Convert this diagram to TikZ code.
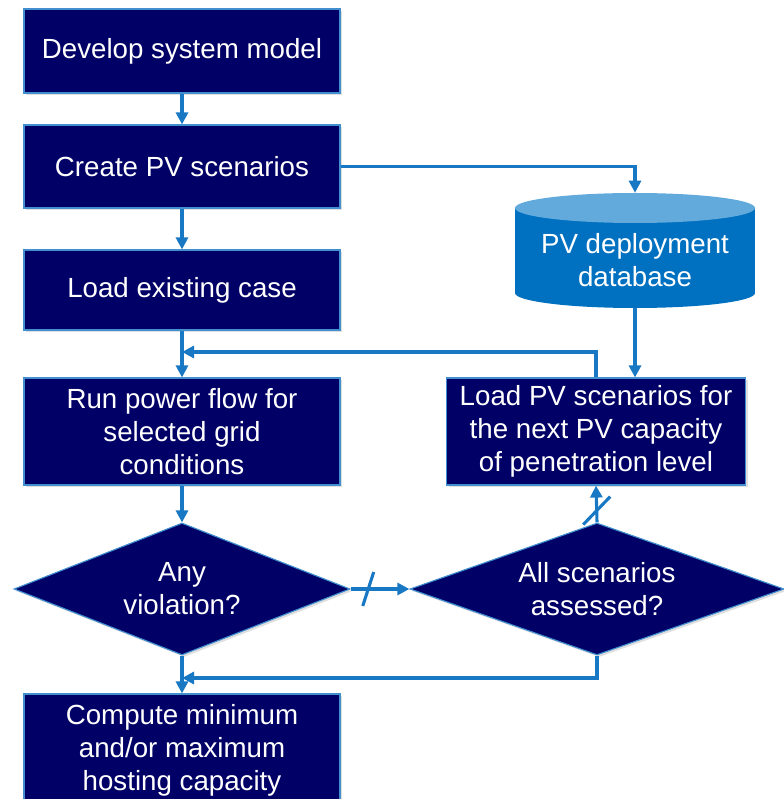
\documentclass[tikz,border=0pt]{standalone}
\usepackage{fontspec}
\setmainfont{Liberation Sans}
\usetikzlibrary{shapes.geometric,arrows.meta,calc,shadows}
\definecolor{navybox}{RGB}{0,0,102}
\definecolor{boxedge}{RGB}{66,143,208}
\definecolor{flowblue}{RGB}{24,120,196}
\definecolor{dbside}{RGB}{0,112,192}
\definecolor{dbtop}{RGB}{98,170,220}
\begin{document}
\begin{tikzpicture}[x=0.025cm,y=-0.025cm,
    stepbox/.style={
        draw = boxedge,
        line width = 0.8pt,
        fill = navybox,
        text = white,
        align = center,
        inner sep = 0pt,
        minimum width = 7.9cm,
        font = \fontsize{19.7}{23.5}\selectfont,
        drop shadow = {shadow xshift=1.5pt, shadow yshift=-1.5pt, opacity=0.25}
    },
    decision/.style={
        stepbox,
        diamond,
        aspect = 2.5
    },
    flow/.style={
        draw = flowblue,
        line width = 2.2pt,
        -{Triangle[length=0.3cm, width=0.3cm]}
    },
    cutmark/.style={
        draw = flowblue,
        line width = 2.2pt
    }
]
    \useasboundingbox (0,0) rectangle (783,799);

    % left column
    \node[stepbox, minimum height=2.1cm] (dev) at (182,51) {Develop system model};
    \node[stepbox, minimum height=2.075cm] (pv) at (182,166.5) {Create PV scenarios};
    \node[stepbox, minimum height=2cm] (load) at (182,290) {Load existing case};
    \node[stepbox, minimum height=2.675cm] (run) at (182,431.5) {Run power flow for\\selected grid\\conditions};
    \node[decision, minimum width=8.4cm, minimum height=3.3cm] (viol) at (182,589) {Any\\violation?};
    \node[stepbox, minimum height=2.8cm] (hosting) at (182,750) {Compute minimum\\and/or maximum\\hosting capacity};

    % database
    \coordinate (dbc) at (635,250.5);
    \fill[dbside] ($(dbc)+(-120,-42.5)$) rectangle ($(dbc)+(120,42.5)$);
    \fill[dbside] ($(dbc)+(0,42.5)$) ellipse [x radius=120, y radius=15];
    \fill[dbtop] ($(dbc)+(0,-42.5)$) ellipse [x radius=120, y radius=15];
    \node[minimum width=6cm, minimum height=2.875cm, inner sep=0pt] (db) at (dbc) {};
    \node[text=white, align=center, font=\fontsize{19.7}{23.5}\selectfont] (dbname) at (635,260) {PV deployment\\database};

    % right column
    \node[stepbox, minimum width=7.475cm, minimum height=2.675cm] (nextpv) at (596,431.5) {Load PV scenarios for\\the next PV capacity\\of penetration level};
    \node[decision, minimum width=9.35cm, minimum height=3.3cm] (assess) at (597,589) {All scenarios\\assessed?};

    \coordinate (join1) at (182,352);
    \coordinate (join2) at (182,678);

    \draw[flow] (dev) -- (pv);
    \draw[flow] (pv) -- (load);
    \draw[flow] (pv.east) -| (db.north);
    \draw[flow] (db.south) -- (db.south |- nextpv.north);
    \draw[flow] (load) -- (run);
    \draw[flow] (nextpv.north) |- (join1);
    \draw[flow] (run) -- (viol);
    \draw[flow] (viol.east) -- coordinate[pos=0.3] (cut1) (assess.west);
    \draw[flow] (assess.north) -- coordinate[pos=0.32] (cut2) (nextpv.south);
    \draw[flow] (assess.south) |- (join2);
    \draw[flow] (viol) -- (hosting);

    \draw[cutmark] ($(cut1)+(-5.5,17)$) -- ($(cut1)+(5.5,-17)$);
    \draw[cutmark] ($(cut2)+(-13.5,14)$) -- ($(cut2)+(13.5,-14)$);
\end{tikzpicture}
\end{document}
